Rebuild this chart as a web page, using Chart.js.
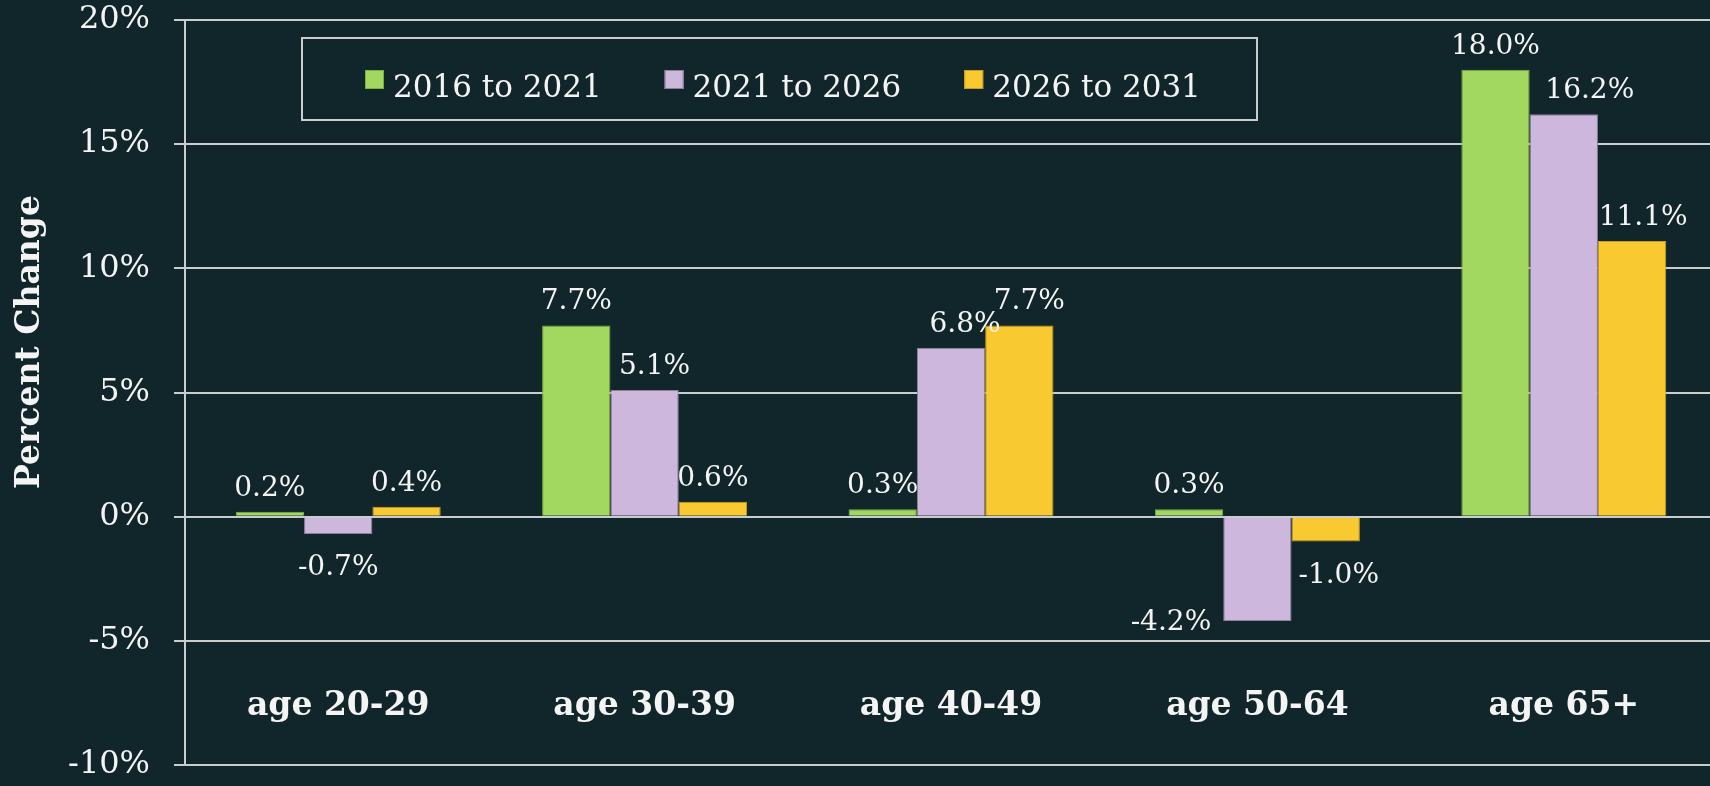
<!DOCTYPE html>
<html>
<head>
<meta charset="utf-8">
<script src="https://cdn.jsdelivr.net/npm/chart.js@4.4.1/dist/chart.umd.min.js"></script>
<style>
    html, body { margin: 0; padding: 0; background: #11262b; overflow: hidden; }
    #wrap { position: absolute; left: 0; top: 0; width: 1720px; height: 786px; }
</style>
</head>
<body>
<div id="wrap"><canvas id="chart"></canvas></div>
<script>
const ageGroups = ['age 20-29', 'age 30-39', 'age 40-49', 'age 50-64', 'age 65+'];
const periods = ['2016 to 2021', '2021 to 2026', '2026 to 2031'];
const change2016to2021 = [0.2, 7.7, 0.3, 0.3, 18.0];
const change2021to2026 = [-0.7, 5.1, 6.8, -4.2, 16.2];
const change2026to2031 = [0.4, 0.6, 7.7, -1.0, 11.1];
const yTicks = [-10, -5, 0, 5, 10, 15, 20];

const FONT = "'DejaVu Serif', serif";
const TEXT = '#f4f4f4';
const LINE = '#c9cdcd';

// small nudges for value labels that sit off-centre in the original
const labelNudge = {
    '1,1': 10, '1,2': 14, '1,4': 26,
    '2,2': 10, '2,3': 13, '2,4': 11
};

const valueLabels = {
    id: 'valueLabels',
    afterDatasetsDraw(chart) {
        const ctx = chart.ctx;
        ctx.save();
        ctx.font = '28px ' + FONT;
        ctx.fillStyle = TEXT;
        chart.data.datasets.forEach((ds, di) => {
            chart.getDatasetMeta(di).data.forEach((bar, i) => {
                const v = ds.data[i];
                const txt = v.toFixed(1) + '%';
                const dx = labelNudge[di + ',' + i] || 0;
                if (di === 1 && i === 3) {
                    // -4.2% sits left of the bar end
                    ctx.textAlign = 'right';
                    ctx.textBaseline = 'middle';
                    ctx.fillText(txt, bar.x - bar.width / 2 - 12, bar.y + 2);
                } else if (v >= 0) {
                    ctx.textAlign = 'center';
                    ctx.textBaseline = 'alphabetic';
                    ctx.fillText(txt, bar.x + dx, bar.y - 16);
                } else {
                    ctx.textAlign = 'center';
                    ctx.textBaseline = 'middle';
                    ctx.fillText(txt, bar.x + dx, bar.y + 34);
                }
            });
        });
        ctx.restore();
    }
};

const boxLegend = {
    id: 'boxLegend',
    afterDraw(chart) {
        const ctx = chart.ctx;
        const a = chart.chartArea;
        const left = a.left + 117, top = a.top + 18, w = 955, h = 82;
        ctx.save();
        ctx.strokeStyle = LINE;
        ctx.lineWidth = 2;
        ctx.strokeRect(left, top, w, h);
        ctx.font = '31px ' + FONT;
        ctx.textBaseline = 'alphabetic';
        ctx.textAlign = 'left';
        let x = left + 63;
        chart.data.datasets.forEach(ds => {
            ctx.fillStyle = ds.backgroundColor;
            ctx.fillRect(x, top + 32, 19, 19);
            ctx.strokeStyle = ds.borderColor;
            ctx.lineWidth = 1;
            ctx.strokeRect(x + 0.5, top + 32.5, 18, 18);
            ctx.fillStyle = TEXT;
            ctx.fillText(ds.label, x + 28, top + 59);
            x += 28 + ctx.measureText(ds.label).width + 63;
        });
        ctx.restore();
    }
};

const axisText = {
    id: 'axisText',
    afterDraw(chart) {
        const ctx = chart.ctx;
        const xs = chart.scales.x;
        const a = chart.chartArea;
        ctx.save();
        ctx.fillStyle = TEXT;
        ctx.font = 'bold 33px ' + FONT;
        ctx.textAlign = 'center';
        ctx.textBaseline = 'alphabetic';
        ageGroups.forEach((g, i) => {
            ctx.fillText(g, xs.getPixelForValue(i), a.bottom - 50);
        });
        // y axis title
        ctx.font = 'bold 33px ' + FONT;
        ctx.translate(30, 342);
        ctx.rotate(-Math.PI / 2);
        ctx.textBaseline = 'middle';
        ctx.fillText('Percent Change', 0, 0);
        ctx.restore();
    }
};

const makeSet = (label, data, fill, border) => ({
    label: label,
    data: data,
    backgroundColor: fill,
    borderColor: border,
    borderWidth: 1,
    categoryPercentage: 0.669,
    barPercentage: 1.0
});

new Chart(document.getElementById('chart'), {
    type: 'bar',
    data: {
        labels: ageGroups,
        datasets: [
            makeSet(periods[0], change2016to2021, '#a2d85f', '#7fae45'),
            makeSet(periods[1], change2021to2026, '#cdb7dc', '#8c8296'),
            makeSet(periods[2], change2026to2031, '#f9c931', '#c99d1c')
        ]
    },
    options: {
        responsive: true,
        maintainAspectRatio: false,
        animation: false,
        layout: { padding: { top: 20, bottom: 21, left: 0, right: 3 } },
        plugins: {
            legend: { display: false },
            tooltip: { enabled: false }
        },
        scales: {
            x: { display: false },
            y: {
                min: -10,
                max: 20,
                afterBuildTicks: s => { s.ticks = yTicks.map(v => ({ value: v })); },
                afterFit: s => { s.width = 185; },
                // long tick slot, only the 11px next to the axis is drawn
                grid: {
                    color: LINE, lineWidth: 2, drawTicks: true, tickLength: 35,
                    tickBorderDash: [11, 24], tickBorderDashOffset: 11
                },
                border: { display: true, color: LINE, width: 2 },
                ticks: {
                    color: TEXT,
                    padding: 0,
                    font: { family: FONT, size: 32 },
                    callback: v => v + '%'
                }
            }
        }
    },
    plugins: [valueLabels, boxLegend, axisText]
});
</script>
</body>
</html>
